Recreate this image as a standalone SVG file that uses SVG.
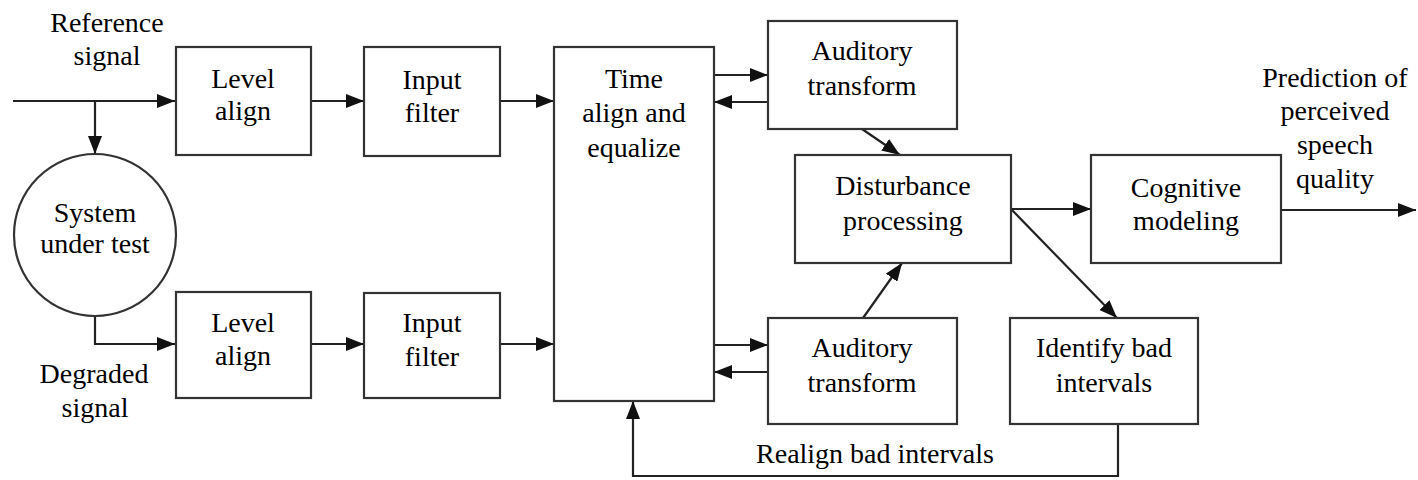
<svg xmlns="http://www.w3.org/2000/svg" width="1418" height="480" viewBox="0 0 1418 480">
  <defs>
    <marker id="arrow" viewBox="0 0 18 14" markerWidth="18" markerHeight="14" refX="18" refY="7" orient="auto" markerUnits="userSpaceOnUse">
      <path d="M0,0 L18,7 L0,14 z" fill="#111"/>
    </marker>
  </defs>
  <rect width="1418" height="480" fill="#fff"/>

  <!-- connectors: all share stroke and arrowhead -->
  <g id="connectors" fill="none" stroke="#222" stroke-width="2.2">
    <path marker-end="url(#arrow)" d="M13,101 H175"/>
    <path marker-end="url(#arrow)" d="M95,101 V154"/>
    <path marker-end="url(#arrow)" d="M95,317 V344 H175"/>
    <path marker-end="url(#arrow)" d="M311,101 H364"/>
    <path marker-end="url(#arrow)" d="M311,344 H364"/>
    <path marker-end="url(#arrow)" d="M500,101 H554"/>
    <path marker-end="url(#arrow)" d="M500,344 H554"/>
    <path marker-end="url(#arrow)" d="M714,75 H768"/>
    <path marker-end="url(#arrow)" d="M768,102 H714"/>
    <path marker-end="url(#arrow)" d="M714,345 H768"/>
    <path marker-end="url(#arrow)" d="M768,372 H714"/>
    <path marker-end="url(#arrow)" d="M862,129 L900,155"/>
    <path marker-end="url(#arrow)" d="M863,318 L902,263"/>
    <path marker-end="url(#arrow)" d="M1011,209 H1091"/>
    <path marker-end="url(#arrow)" d="M1011,209 L1117,318"/>
    <path marker-end="url(#arrow)" d="M1281,210 H1416"/>
    <path marker-end="url(#arrow)" d="M1118,424 V476 H633 V401"/>
  </g>

  <!-- signal labels -->
  <g id="labels">
    <text x="107" y="32" style="font-family: 'Times New Roman', 'Liberation Serif', serif; font-size: 28px" text-anchor="middle">Reference</text>
    <text x="107" y="65" style="font-family: 'Times New Roman', 'Liberation Serif', serif; font-size: 28px" text-anchor="middle">signal</text>
    <text x="94" y="383" style="font-family: 'Times New Roman', 'Liberation Serif', serif; font-size: 28px" text-anchor="middle">Degraded</text>
    <text x="95" y="417" style="font-family: 'Times New Roman', 'Liberation Serif', serif; font-size: 28px" text-anchor="middle">signal</text>
    <text x="1335" y="87" style="font-family: 'Times New Roman', 'Liberation Serif', serif; font-size: 28px" text-anchor="middle">Prediction of</text>
    <text x="1335" y="120" style="font-family: 'Times New Roman', 'Liberation Serif', serif; font-size: 28px" text-anchor="middle">perceived</text>
    <text x="1335" y="154" style="font-family: 'Times New Roman', 'Liberation Serif', serif; font-size: 28px" text-anchor="middle">speech</text>
    <text x="1335" y="188" style="font-family: 'Times New Roman', 'Liberation Serif', serif; font-size: 28px" text-anchor="middle">quality</text>
    <text x="875" y="463" style="font-family: 'Times New Roman', 'Liberation Serif', serif; font-size: 28px" text-anchor="middle">Realign bad intervals</text>
  </g>

  <g id="system-under-test">
    <circle cx="95" cy="235" r="81" fill="#fff" stroke="#333" stroke-width="2.2"/>
    <text x="95" y="222" style="font-family: 'Times New Roman', 'Liberation Serif', serif; font-size: 28px" text-anchor="middle">System</text>
    <text x="95" y="253" style="font-family: 'Times New Roman', 'Liberation Serif', serif; font-size: 28px" text-anchor="middle">under test</text>
  </g>

  <g id="level-align-ref">
    <rect x="176" y="47" width="135" height="108" fill="#fff" stroke="#333" stroke-width="2.2"/>
    <text x="243" y="88" style="font-family: 'Times New Roman', 'Liberation Serif', serif; font-size: 28px" text-anchor="middle">Level</text>
    <text x="243" y="120" style="font-family: 'Times New Roman', 'Liberation Serif', serif; font-size: 28px" text-anchor="middle">align</text>
  </g>

  <g id="level-align-deg">
    <rect x="176" y="292" width="135" height="106" fill="#fff" stroke="#333" stroke-width="2.2"/>
    <text x="243" y="332" style="font-family: 'Times New Roman', 'Liberation Serif', serif; font-size: 28px" text-anchor="middle">Level</text>
    <text x="243" y="365" style="font-family: 'Times New Roman', 'Liberation Serif', serif; font-size: 28px" text-anchor="middle">align</text>
  </g>

  <g id="input-filter-ref">
    <rect x="364" y="47" width="136" height="109" fill="#fff" stroke="#333" stroke-width="2.2"/>
    <text x="432" y="89" style="font-family: 'Times New Roman', 'Liberation Serif', serif; font-size: 28px" text-anchor="middle">Input</text>
    <text x="432" y="122" style="font-family: 'Times New Roman', 'Liberation Serif', serif; font-size: 28px" text-anchor="middle">filter</text>
  </g>

  <g id="input-filter-deg">
    <rect x="364" y="293" width="136" height="105" fill="#fff" stroke="#333" stroke-width="2.2"/>
    <text x="432" y="332" style="font-family: 'Times New Roman', 'Liberation Serif', serif; font-size: 28px" text-anchor="middle">Input</text>
    <text x="432" y="366" style="font-family: 'Times New Roman', 'Liberation Serif', serif; font-size: 28px" text-anchor="middle">filter</text>
  </g>

  <g id="time-align">
    <rect x="554" y="47" width="160" height="354" fill="#fff" stroke="#333" stroke-width="2.2"/>
    <text x="634" y="88" style="font-family: 'Times New Roman', 'Liberation Serif', serif; font-size: 28px" text-anchor="middle">Time</text>
    <text x="634" y="122" style="font-family: 'Times New Roman', 'Liberation Serif', serif; font-size: 28px" text-anchor="middle">align and</text>
    <text x="634" y="157" style="font-family: 'Times New Roman', 'Liberation Serif', serif; font-size: 28px" text-anchor="middle">equalize</text>
  </g>

  <g id="auditory-ref">
    <rect x="768" y="21" width="189" height="108" fill="#fff" stroke="#333" stroke-width="2.2"/>
    <text x="862" y="60" style="font-family: 'Times New Roman', 'Liberation Serif', serif; font-size: 28px" text-anchor="middle">Auditory</text>
    <text x="862" y="95" style="font-family: 'Times New Roman', 'Liberation Serif', serif; font-size: 28px" text-anchor="middle">transform</text>
  </g>

  <g id="auditory-deg">
    <rect x="768" y="318" width="189" height="106" fill="#fff" stroke="#333" stroke-width="2.2"/>
    <text x="862" y="357" style="font-family: 'Times New Roman', 'Liberation Serif', serif; font-size: 28px" text-anchor="middle">Auditory</text>
    <text x="862" y="392" style="font-family: 'Times New Roman', 'Liberation Serif', serif; font-size: 28px" text-anchor="middle">transform</text>
  </g>

  <g id="disturbance">
    <rect x="795" y="155" width="216" height="108" fill="#fff" stroke="#333" stroke-width="2.2"/>
    <text x="903" y="195" style="font-family: 'Times New Roman', 'Liberation Serif', serif; font-size: 28px" text-anchor="middle">Disturbance</text>
    <text x="903" y="230" style="font-family: 'Times New Roman', 'Liberation Serif', serif; font-size: 28px" text-anchor="middle">processing</text>
  </g>

  <g id="cognitive">
    <rect x="1091" y="155" width="190" height="108" fill="#fff" stroke="#333" stroke-width="2.2"/>
    <text x="1186" y="197" style="font-family: 'Times New Roman', 'Liberation Serif', serif; font-size: 28px" text-anchor="middle">Cognitive</text>
    <text x="1186" y="230" style="font-family: 'Times New Roman', 'Liberation Serif', serif; font-size: 28px" text-anchor="middle">modeling</text>
  </g>

  <g id="identify-bad">
    <rect x="1010" y="318" width="188" height="106" fill="#fff" stroke="#333" stroke-width="2.2"/>
    <text x="1104" y="357" style="font-family: 'Times New Roman', 'Liberation Serif', serif; font-size: 28px" text-anchor="middle">Identify bad</text>
    <text x="1104" y="392" style="font-family: 'Times New Roman', 'Liberation Serif', serif; font-size: 28px" text-anchor="middle">intervals</text>
  </g>
</svg>
